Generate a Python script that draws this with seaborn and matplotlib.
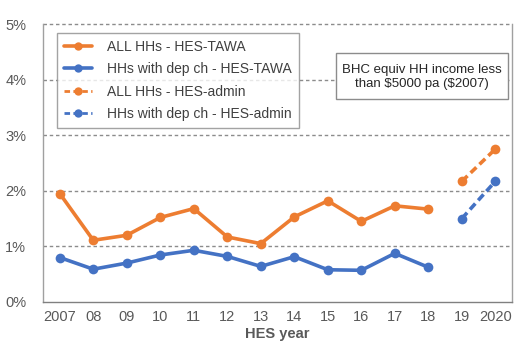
import matplotlib
matplotlib.use("Agg")
import matplotlib.pyplot as plt
import seaborn as sns
import pandas as pd
from matplotlib.ticker import FixedLocator, FuncFormatter
from matplotlib.lines import Line2D
from matplotlib.patches import Rectangle

# Survey years shown on the category axis
years = ["2007", "08", "09", "10", "11", "12", "13", "14", "15", "16", "17", "18", "19", "2020"]

# Share of households below the low-income threshold (%), HES-TAWA series 2007-2018
all_hh_tawa = [1.95, 1.11, 1.20, 1.52, 1.68, 1.17, 1.05, 1.53, 1.82, 1.45, 1.73, 1.67]
depch_tawa = [0.80, 0.59, 0.70, 0.845, 0.93, 0.82, 0.64, 0.815, 0.58, 0.57, 0.875, 0.625]

# HES-admin series, 2019-2020
admin_years = ["19", "2020"]
all_hh_admin = [2.17, 2.75]
depch_admin = [1.50, 2.17]

series_names = [
    "ALL HHs - HES-TAWA",
    "HHs with dep ch - HES-TAWA",
    "ALL HHs - HES-admin",
    "HHs with dep ch - HES-admin",
]

ORANGE = "#ED7D31"
BLUE = "#4472C4"
TEXT = "#595959"
GRID = "#8C8C8C"

rows = []
for name, labels, vals in [
    (series_names[0], years[:12], all_hh_tawa),
    (series_names[1], years[:12], depch_tawa),
    (series_names[2], admin_years, all_hh_admin),
    (series_names[3], admin_years, depch_admin),
]:
    for lab, v in zip(labels, vals):
        rows.append({"series": name, "pos": years.index(lab), "value": v})
df = pd.DataFrame(rows)

sns.set_style("white")
plt.rcParams["font.family"] = ["Liberation Sans", "DejaVu Sans"]

fig = plt.figure(figsize=(5.14, 3.47), dpi=100)
ax = fig.add_axes([0.0837, 0.1297, 0.9125, 0.8011])

palette = {series_names[0]: ORANGE, series_names[1]: BLUE,
           series_names[2]: ORANGE, series_names[3]: BLUE}
dashes = {series_names[0]: "", series_names[1]: "",
          series_names[2]: (2.2, 1.2), series_names[3]: (2.2, 1.2)}

for y in [1, 2, 3, 4, 5]:
    ax.axhline(y, color=GRID, lw=1.0, ls=(0, (2.5, 2)), zorder=0, clip_on=False)

sns.lineplot(data=df, x="pos", y="value", hue="series", style="series",
             palette=palette, dashes=dashes, markers={n: "o" for n in series_names},
             markersize=7, markeredgewidth=0, linewidth=2.6, ax=ax, legend=False,
             zorder=3)

ax.set_xlim(-0.5, 13.5)
ax.set_ylim(0, 5)

ax.xaxis.set_major_locator(FixedLocator(range(len(years))))
ax.set_xticklabels(years)
ax.xaxis.set_minor_locator(FixedLocator([i + 0.5 for i in range(13)]))
ax.tick_params(axis="x", which="major", length=0, pad=6, labelsize=10.5, labelcolor=TEXT)
ax.tick_params(axis="x", which="minor", length=5, width=1, direction="in", color="#808080")
ax.yaxis.set_major_locator(FixedLocator([0, 1, 2, 3, 4, 5]))
ax.yaxis.set_major_formatter(FuncFormatter(lambda v, p: f"{v:.0f}%"))
ax.tick_params(axis="y", length=0, pad=12, labelsize=10.5, labelcolor=TEXT)

ax.set_xlabel("HES year", fontsize=10.5, fontweight="bold", color=TEXT, labelpad=2)
ax.set_ylabel("")

for side in ["left", "right", "bottom"]:
    ax.spines[side].set_color("#A0A0A0")
    ax.spines[side].set_linewidth(1.0)
ax.spines["bottom"].set_color("#808080")
ax.spines["top"].set_visible(False)

handles = [
    Line2D([], [], color=ORANGE, lw=2.6, marker="o", markersize=6, markeredgewidth=0),
    Line2D([], [], color=BLUE, lw=2.6, marker="o", markersize=6, markeredgewidth=0),
    Line2D([], [], color=ORANGE, lw=2.0, ls=(0, (2, 1.2)), marker="o", markersize=6, markeredgewidth=0),
    Line2D([], [], color=BLUE, lw=2.0, ls=(0, (2, 1.2)), marker="o", markersize=6, markeredgewidth=0),
]
leg = ax.legend(handles, series_names, loc="upper left",
                bbox_to_anchor=(0.030, 0.968), frameon=True, fancybox=False,
                fontsize=10, handlelength=2.0, handletextpad=1.1,
                labelspacing=0.6, borderpad=0.5, borderaxespad=0)
leg.get_frame().set_edgecolor("#8C8C8C")
leg.get_frame().set_linewidth(1.0)
for t in leg.get_texts():
    t.set_color("#404040")

# Note box
ax.add_patch(Rectangle((0.6247, 0.730), 0.3667, 0.1655, transform=ax.transAxes,
                       facecolor="white", edgecolor="#8C8C8C", lw=1.0, zorder=4))
ax.text(0.808, 0.809, "BHC equiv HH income less\nthan \\$5000 pa (\\$2007)",
        transform=ax.transAxes, ha="center", va="center", fontsize=9.5,
        color="#262626", linespacing=1.2, zorder=5)

fig.savefig("out.png", dpi=100, facecolor="white")
